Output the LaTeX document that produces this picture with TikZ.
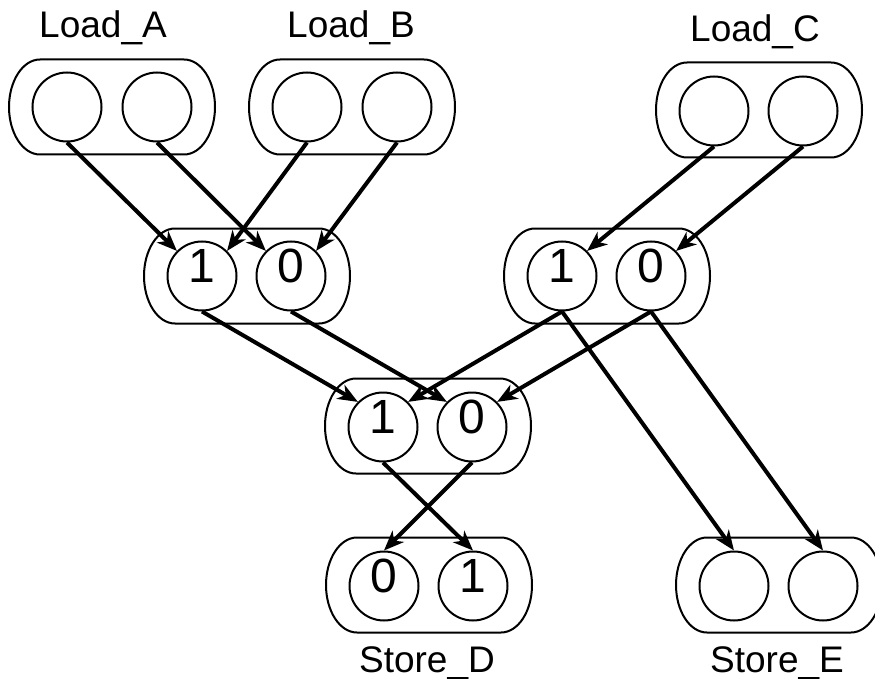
\documentclass[tikz,border=0pt]{standalone}
\usepackage{fontspec}
\setmainfont{Liberation Sans}
\usetikzlibrary{arrows.meta, positioning}

\begin{document}
\begin{tikzpicture}[
		x=1pt, y=-1pt,
		grp/.style={minimum width=206pt, minimum height=95pt, inner sep=0pt, outer sep=0pt,
			append after command={\pgfextra{\draw[line width=2pt]
				([xshift=31pt]\tikzlastnode.north west) -- ([xshift=-31pt]\tikzlastnode.north east)
				arc[start angle=90, end angle=-90, x radius=31pt, y radius=47.5pt]
				-- ([xshift=31pt]\tikzlastnode.south west)
				arc[start angle=270, end angle=90, x radius=31pt, y radius=47.5pt] -- cycle;}}},
		cell/.style={draw, circle, line width=2pt, minimum size=69pt, inner sep=0pt, font=\fontsize{48}{48}\selectfont, text height=34pt, text depth=22pt},
		lbl/.style={anchor=base, font=\fontsize{37}{37}\selectfont},
		arr/.style={-{Stealth[length=20pt, width=16pt, inset=6pt]}, line width=4pt}
		]
		\useasboundingbox (0,0) rectangle (875,679);
		
		% top row
		\node[grp] (la) at (112,107) {};
		\node[cell] (la1) at (67,107) {};
		\node[cell] (la2) at (157,107) {};
		\node[lbl] (laT) at (103,38) {Load\_A};
		
		\node[grp] (lb) at (352,107) {};
		\node[cell] (lb1) at (307,107) {};
		\node[cell] (lb2) at (397,107) {};
		\node[lbl] (lbT) at (351,38) {Load\_B};
		
		\node[grp] (lc) at (759,110) {};
		\node[cell] (lc1) at (714,111) {};
		\node[cell] (lc2) at (803,111) {};
		\node[lbl] (lcT) at (755,42) {Load\_C};
		
		% middle rows
		\node[grp] (ml) at (247,276) {};
		\node[cell] (ml1) at (202,276) {1};
		\node[cell] (ml0) at (291,276) {0};
		
		\node[grp] (mr) at (607,276) {};
		\node[cell] (mr1) at (562,276) {1};
		\node[cell] (mr0) at (651,276) {0};
		
		\node[grp] (mc) at (428,426) {};
		\node[cell] (mc1) at (383,427) {1};
		\node[cell] (mc0) at (472,427) {0};
		
		% bottom row
		\node[grp] (sd) at (429,585) {};
		\node[cell] (sd0) at (384,586) {0};
		\node[cell] (sd1) at (473,586) {1};
		\node[lbl] (sdT) at (427,672) {Store\_D};
		
		\node[grp] (se) at (779,585) {};
		\node[cell] (se1) at (734,586) {};
		\node[cell] (se2) at (823,586) {};
		\node[lbl] (seT) at (777,672) {Store\_E};
		
		\draw[arr] (la1.south) -- (ml1.north west);
		\draw[arr] (la2.south) -- (ml0.north west);
		\draw[arr] (lb1.south) -- (ml1.north east);
		\draw[arr] (lb2.south) -- (ml0.north east);
		\draw[arr] (lc1.south) -- (mr1.north east);
		\draw[arr] (lc2.south) -- (mr0.north east);
		\draw[arr] (ml1.south) -- (mc1.north west);
		\draw[arr] (ml0.south) -- (mc0.north west);
		\draw[arr] (mr1.south) -- (mc1.north east);
		\draw[arr] (mr0.south) -- (mc0.north east);
		\draw[arr] (mr1.south) -- (se1.north);
		\draw[arr] (mr0.south) -- (se2.north);
		\draw[arr] (mc1.south) -- (sd1.north);
		\draw[arr] (mc0.south) -- (sd0.north);
	\end{tikzpicture}
\end{document}
